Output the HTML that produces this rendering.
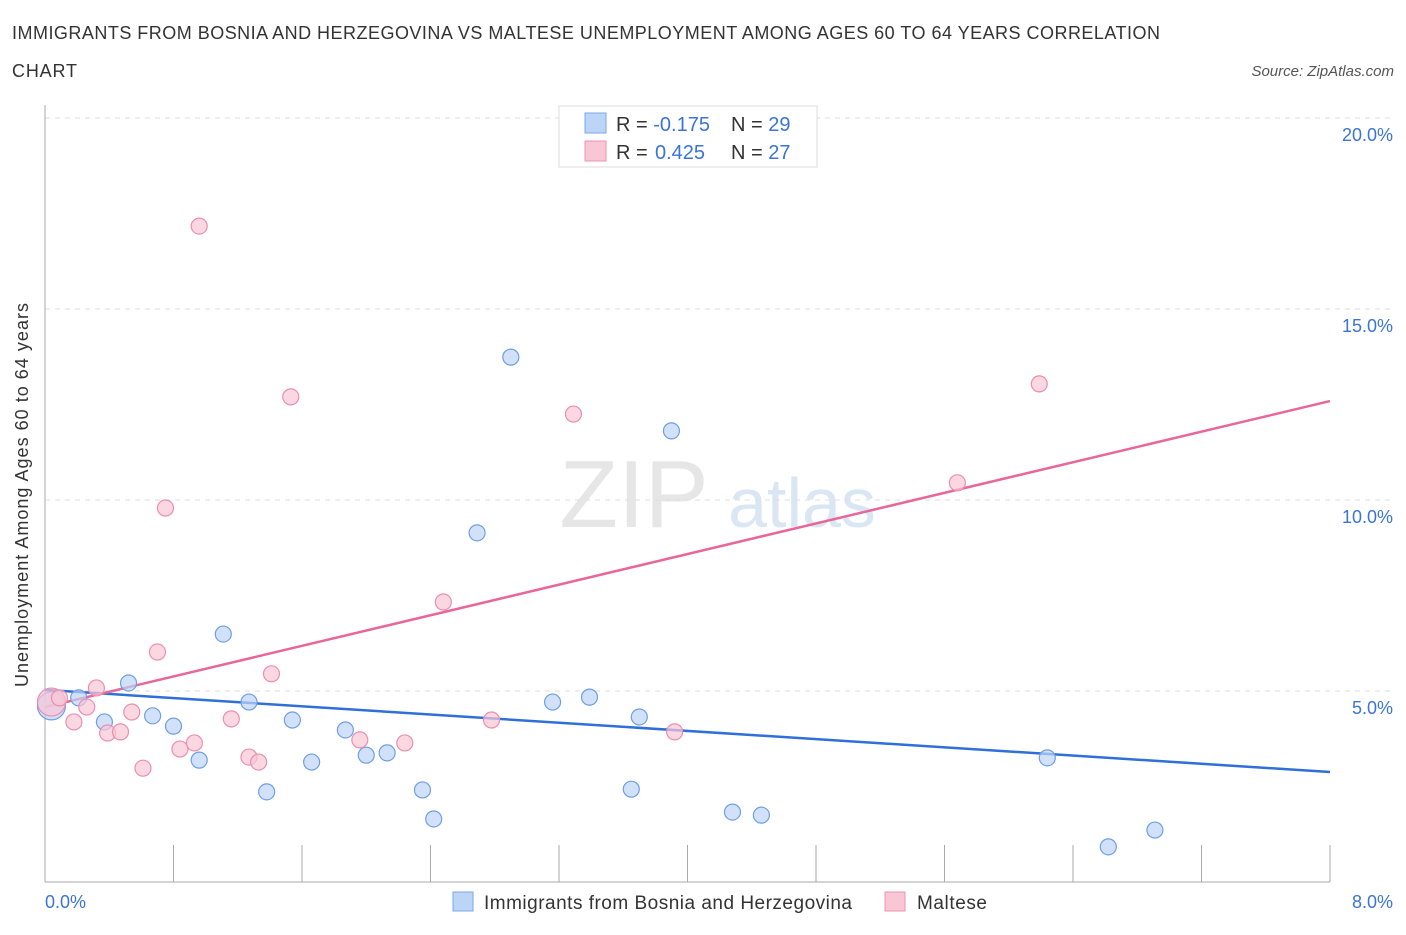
<!DOCTYPE html>
<html><head><meta charset="utf-8"><style>
body{margin:0;background:#fff;font-family:"Liberation Sans",sans-serif;}
svg text{font-family:"Liberation Sans",sans-serif;}
</style></head><body>
<svg id="chart" width="1406" height="930" xmlns="http://www.w3.org/2000/svg">
<text x="12" y="39" font-size="18" fill="#333" textLength="1148" lengthAdjust="spacing">IMMIGRANTS FROM BOSNIA AND HERZEGOVINA VS MALTESE UNEMPLOYMENT AMONG AGES 60 TO 64 YEARS CORRELATION</text>
<text x="12" y="77" font-size="18" fill="#333" textLength="65">CHART</text>
<text x="1394" y="76" font-size="15" font-style="italic" fill="#555" text-anchor="end">Source: ZipAtlas.com</text>
<text x="634" y="527" font-size="96" font-family="Liberation Serif" fill="#e6e6e6" text-anchor="middle">ZIP</text>
<text x="802" y="527" font-size="70" fill="#dbe6f5" text-anchor="middle">atlas</text>
<g id="grid"></g><g id="axes"></g><g id="lines"></g><g id="points"></g>
<text x="28" y="495" font-size="18" fill="#333" text-anchor="middle" transform="rotate(-90 28 495)" textLength="384">Unemployment Among Ages 60 to 64 years</text>
<text x="45" y="908" font-size="18" fill="#3b74d6">0.0%</text>
<text x="1393" y="908" font-size="18" fill="#3b74d6" text-anchor="end">8.0%</text>
<g>
<rect x="559" y="106" width="258" height="61" fill="#fff" stroke="#ddd"/>
<rect x="585" y="113" width="21" height="20" fill="#bcd4f6" stroke="#7aa8e8"/>
<rect x="585" y="141" width="21" height="20" fill="#f9c6d6" stroke="#ee92b0"/>
<text x="616" y="131" font-size="20" fill="#333">R = <tspan fill="#3b74d6">-0.175</tspan><tspan x="731">N = </tspan><tspan fill="#3b74d6">29</tspan></text>
<text x="616" y="159" font-size="20" fill="#333">R = <tspan fill="#3b74d6" x="655">0.425</tspan><tspan x="731">N = </tspan><tspan fill="#3b74d6">27</tspan></text>
</g>
<g>
<rect x="453" y="892" width="20" height="19" fill="#bcd4f6" stroke="#7aa8e8"/>
<text x="484" y="909" font-size="19" fill="#333" textLength="368">Immigrants from Bosnia and Herzegovina</text>
<rect x="885" y="892" width="20" height="19" fill="#f9c6d6" stroke="#ee92b0"/>
<text x="917" y="909" font-size="19" fill="#333" textLength="70">Maltese</text>
</g>
</svg>
<script>
const yTicks=[5,10,15,20];
const blueX=[0.04,0.21,0.37,0.52,0.67,0.80,0.96,1.11,1.27,1.38,1.54,1.66,1.87,2.00,2.13,2.35,2.42,2.69,2.90,3.16,3.39,3.65,3.70,3.90,4.28,4.46,6.24,6.62,6.91];
const blueY=[4.61,4.82,4.19,5.21,4.35,4.08,3.19,6.49,4.71,2.36,4.24,3.14,3.98,3.32,3.38,2.41,1.65,9.14,13.74,4.71,4.84,2.43,4.32,11.81,1.83,1.75,3.25,0.92,1.36];
const pinkX=[0.04,0.09,0.18,0.26,0.32,0.39,0.47,0.54,0.61,0.70,0.75,0.84,0.93,0.96,1.16,1.27,1.33,1.41,1.53,1.96,2.24,2.48,2.78,3.29,3.92,5.68,6.19];
const pinkY=[4.71,4.82,4.19,4.58,5.08,3.90,3.93,4.45,2.98,6.02,9.79,3.48,3.64,17.17,4.27,3.27,3.14,5.45,12.70,3.72,3.64,7.33,4.24,12.25,3.93,10.45,13.04];
const blueTrend=[5.03,2.88];
const pinkTrend=[4.58,12.59];
const xMax=8;
const NS="http://www.w3.org/2000/svg";
const X=v=>45+v/xMax*1285;
const Y=v=>882-v/5*191;
function mk(t,a,p){const e=document.createElementNS(NS,t);for(const k in a)e.setAttribute(k,a[k]);document.getElementById(p).appendChild(e);return e;}
yTicks.forEach(t=>{
 const g=mk('line',{x1:45,x2:1395,y1:Y(t),y2:Y(t),stroke:'#ddd','stroke-dasharray':'5,5'},'grid');
 
 
 const l=mk('text',{x:1393,y:Y(t)+23,'font-size':18,fill:'#3b74d6','text-anchor':'end'},'axes');
 l.textContent=t.toFixed(1)+'%';
 
 
});
let ax=mk('line',{x1:45,x2:1330,y1:882,y2:882,stroke:'#aaa'},'axes');


let ay=mk('line',{x1:45,x2:45,y1:105,y2:882,stroke:'#aaa'},'axes');


for(let i=0;i<=10;i++){const t=mk('line',{x1:X(i*0.8),x2:X(i*0.8),y1:845,y2:882,stroke:'#aaa'},'axes');
 
 }
let bl=mk('line',{x1:X(0),x2:X(xMax),y1:Y(blueTrend[0]),y2:Y(blueTrend[1]),stroke:'#2f6fd8','stroke-width':2.5},'lines');


let pl=mk('line',{x1:X(0),x2:X(xMax),y1:Y(pinkTrend[0]),y2:Y(pinkTrend[1]),stroke:'#e8679a','stroke-width':2.5},'lines');


function pts(xs,ys,fill,stroke,name){xs.forEach((x,i)=>{const c=mk('circle',{cx:X(x),cy:Y(ys[i]),r:i==0?14:8,fill:fill,stroke:stroke,'stroke-width':1.2,'fill-opacity':0.7},'points');
 
 });}
pts(blueX,blueY,'#bcd4f6','#6f9fe3','point-bosnia');
pts(pinkX,pinkY,'#f9c6d6','#ea8fae','point-maltese');
</script>
</body></html>
